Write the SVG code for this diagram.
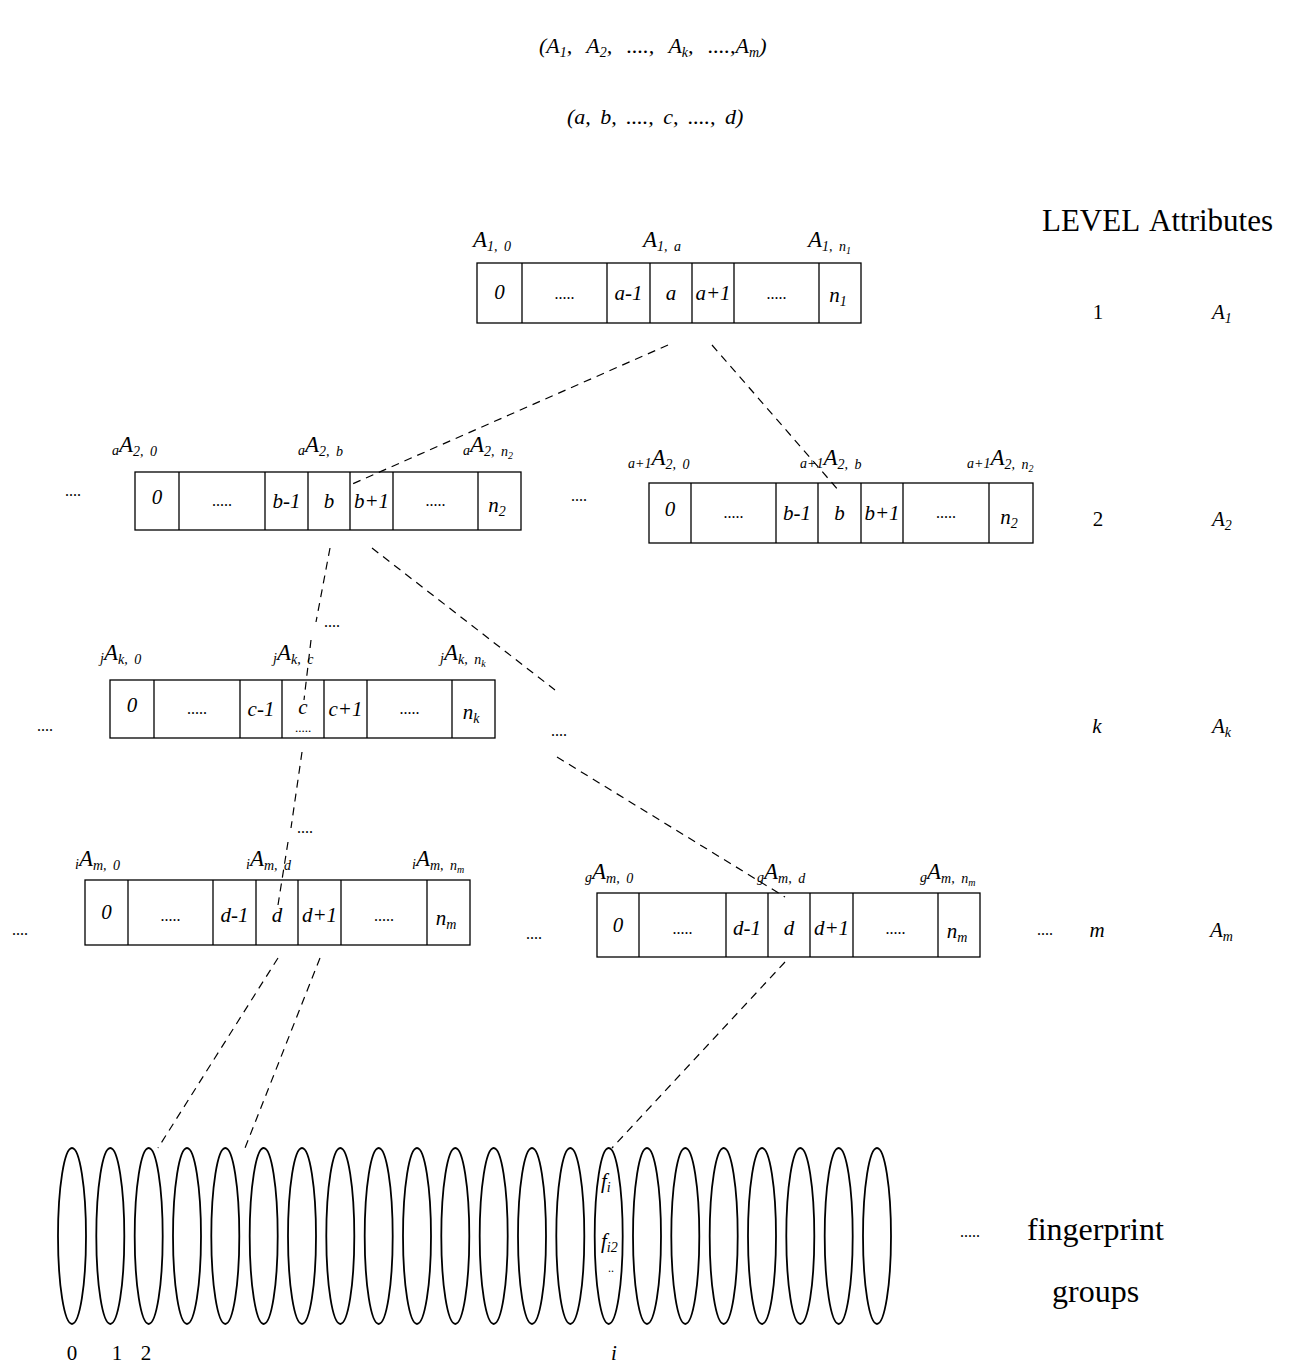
<svg xmlns="http://www.w3.org/2000/svg" width="1307" height="1366" viewBox="0 0 1307 1366">
<style>
.t{font-family:"Liberation Serif","Times New Roman",serif;font-style:italic;font-size:21px;fill:#000}
.r{font-family:"Liberation Serif","Times New Roman",serif;font-size:21px;fill:#000}
.l{font-size:23px;word-spacing:3px}
.s{font-size:14px}
.ss{font-size:10px}
.dots{font-family:"Liberation Serif",serif;font-size:16px;fill:#000;text-anchor:middle}
.c{text-anchor:middle}
.cell{fill:#fff;stroke:#000;stroke-width:1.3}
.dash{stroke:#000;stroke-width:1.2;stroke-dasharray:8 6;fill:none}
.ell{fill:none;stroke:#000;stroke-width:1.8}
</style>
<rect width="1307" height="1366" fill="#fff"/>

<g id="formulas">
<text class="t" x="539" y="53" style="font-size:22px;word-spacing:9px">(A<tspan class="s" dy="4">1</tspan><tspan dy="-4">, A</tspan><tspan class="s" dy="4">2</tspan><tspan dy="-4">, ...., A</tspan><tspan class="s" dy="4">k</tspan><tspan dy="-4">, ....,A</tspan><tspan class="s" dy="4">m</tspan><tspan dy="-4">)</tspan></text>
<text class="t" x="567" y="124" style="font-size:22px;word-spacing:4px">(a, b, ...., c, ...., d)</text>
</g>

<g id="legend">
<text class="r" x="1042" y="231" style="font-size:31px;word-spacing:4px">LEVEL Attributes</text>
<text class="r c" x="1098" y="319">1</text>
<text class="t" x="1212" y="319">A<tspan class="s" dy="4">1</tspan></text>
<text class="r c" x="1098" y="526">2</text>
<text class="t" x="1212" y="526">A<tspan class="s" dy="4">2</tspan></text>
<text class="t c" x="1097" y="733">k</text>
<text class="t" x="1212" y="733">A<tspan class="s" dy="4">k</tspan></text>
<text class="t c" x="1097" y="937">m</text>
<text class="t" x="1210" y="937">A<tspan class="s" dy="4">m</tspan></text>
</g>

<g id="level1">
<rect class="cell" x="477" y="263" width="384" height="60"/>
<g stroke="#000" stroke-width="1.3">
<line x1="522" y1="263" x2="522" y2="323"/><line x1="607" y1="263" x2="607" y2="323"/><line x1="650" y1="263" x2="650" y2="323"/><line x1="692" y1="263" x2="692" y2="323"/><line x1="734" y1="263" x2="734" y2="323"/><line x1="819" y1="263" x2="819" y2="323"/>
</g>
<text class="t c" x="499.5" y="299">0</text>
<text class="dots" x="564.5" y="299">.....</text>
<text class="t c" x="628.5" y="300">a-1</text>
<text class="t c" x="671" y="300">a</text>
<text class="t c" x="713" y="300">a+1</text>
<text class="dots" x="776.5" y="299">.....</text>
<text class="t c" x="838" y="302">n<tspan class="s" dy="4">1</tspan></text>
<text class="t l" x="473" y="247">A<tspan class="s" dy="4">1, 0</tspan></text>
<text class="t l" x="643" y="247">A<tspan class="s" dy="4">1, a</tspan></text>
<text class="t l" x="808" y="247">A<tspan class="s" dy="4">1, n</tspan><tspan class="ss" dy="3">1</tspan></text>
</g>

<g id="level2-left">
<text class="dots" x="73" y="496">....</text>
<rect class="cell" x="135" y="472" width="386" height="58"/>
<g stroke="#000" stroke-width="1.3">
<line x1="179" y1="472" x2="179" y2="530"/><line x1="265" y1="472" x2="265" y2="530"/><line x1="308" y1="472" x2="308" y2="530"/><line x1="350" y1="472" x2="350" y2="530"/><line x1="393" y1="472" x2="393" y2="530"/><line x1="478" y1="472" x2="478" y2="530"/>
</g>
<text class="t c" x="157" y="504">0</text>
<text class="dots" x="222" y="506">.....</text>
<text class="t c" x="286.5" y="508">b-1</text>
<text class="t c" x="329" y="508">b</text>
<text class="t c" x="371.5" y="508">b+1</text>
<text class="dots" x="435.5" y="506">.....</text>
<text class="t c" x="497" y="512">n<tspan class="s" dy="4">2</tspan></text>
<text class="t l" x="112" y="452"><tspan class="s" dy="3">a</tspan><tspan dy="-3">A</tspan><tspan class="s" dy="4">2, 0</tspan></text>
<text class="t l" x="298" y="452"><tspan class="s" dy="3">a</tspan><tspan dy="-3">A</tspan><tspan class="s" dy="4">2, b</tspan></text>
<text class="t l" x="463" y="452"><tspan class="s" dy="3">a</tspan><tspan dy="-3">A</tspan><tspan class="s" dy="4">2, n</tspan><tspan class="ss" dy="3">2</tspan></text>
</g>

<g id="level2-right">
<text class="dots" x="579" y="501">....</text>
<rect class="cell" x="649" y="483" width="384" height="60"/>
<g stroke="#000" stroke-width="1.3">
<line x1="691" y1="483" x2="691" y2="543"/><line x1="776" y1="483" x2="776" y2="543"/><line x1="818" y1="483" x2="818" y2="543"/><line x1="861" y1="483" x2="861" y2="543"/><line x1="903" y1="483" x2="903" y2="543"/><line x1="989" y1="483" x2="989" y2="543"/>
</g>
<text class="t c" x="670" y="516">0</text>
<text class="dots" x="733.5" y="518">.....</text>
<text class="t c" x="797" y="520">b-1</text>
<text class="t c" x="839.5" y="520">b</text>
<text class="t c" x="882" y="520">b+1</text>
<text class="dots" x="946" y="518">.....</text>
<text class="t c" x="1009" y="524">n<tspan class="s" dy="4">2</tspan></text>
<text class="t l" x="628" y="465"><tspan class="s" dy="3">a+1</tspan><tspan dy="-3">A</tspan><tspan class="s" dy="4">2, 0</tspan></text>
<text class="t l" x="800" y="465"><tspan class="s" dy="3">a+1</tspan><tspan dy="-3">A</tspan><tspan class="s" dy="4">2, b</tspan></text>
<text class="t l" x="967" y="465"><tspan class="s" dy="3">a+1</tspan><tspan dy="-3">A</tspan><tspan class="s" dy="4">2, n</tspan><tspan class="ss" dy="3">2</tspan></text>
</g>

<g id="level-k">
<text class="dots" x="45" y="731">....</text>
<rect class="cell" x="110" y="680" width="385" height="58"/>
<g stroke="#000" stroke-width="1.3">
<line x1="154" y1="680" x2="154" y2="738"/><line x1="240" y1="680" x2="240" y2="738"/><line x1="282" y1="680" x2="282" y2="738"/><line x1="324" y1="680" x2="324" y2="738"/><line x1="367" y1="680" x2="367" y2="738"/><line x1="452" y1="680" x2="452" y2="738"/>
</g>
<text class="t c" x="132" y="712">0</text>
<text class="dots" x="197" y="714">.....</text>
<text class="t c" x="261" y="716">c-1</text>
<text class="t c" x="303" y="714">c</text>
<text class="dots" x="303" y="732" style="font-size:13px">.....</text>
<text class="t c" x="345.5" y="716">c+1</text>
<text class="dots" x="409.5" y="714">.....</text>
<text class="t c" x="471" y="719">n<tspan class="s" dy="4">k</tspan></text>
<text class="dots" x="559" y="736">....</text>
<text class="t l" x="100" y="660"><tspan class="s" dy="3">j</tspan><tspan dy="-3">A</tspan><tspan class="s" dy="4">k, 0</tspan></text>
<text class="t l" x="273" y="660"><tspan class="s" dy="3">j</tspan><tspan dy="-3">A</tspan><tspan class="s" dy="4">k, c</tspan></text>
<text class="t l" x="440" y="660"><tspan class="s" dy="3">j</tspan><tspan dy="-3">A</tspan><tspan class="s" dy="4">k, n</tspan><tspan class="ss" dy="3">k</tspan></text>
</g>

<g id="level-m-left">
<text class="dots" x="20" y="935">....</text>
<rect class="cell" x="85" y="880" width="385" height="65"/>
<g stroke="#000" stroke-width="1.3">
<line x1="128" y1="880" x2="128" y2="945"/><line x1="213" y1="880" x2="213" y2="945"/><line x1="256" y1="880" x2="256" y2="945"/><line x1="298" y1="880" x2="298" y2="945"/><line x1="341" y1="880" x2="341" y2="945"/><line x1="427" y1="880" x2="427" y2="945"/>
</g>
<text class="t c" x="106.5" y="919">0</text>
<text class="dots" x="170.5" y="921">.....</text>
<text class="t c" x="234.5" y="922">d-1</text>
<text class="t c" x="277" y="922">d</text>
<text class="t c" x="319.5" y="922">d+1</text>
<text class="dots" x="384" y="921">.....</text>
<text class="t c" x="446" y="925">n<tspan class="s" dy="4">m</tspan></text>
<text class="dots" x="534" y="939">....</text>
<text class="t l" x="75" y="866"><tspan class="s" dy="3">i</tspan><tspan dy="-3">A</tspan><tspan class="s" dy="4">m, 0</tspan></text>
<text class="t l" x="246" y="866"><tspan class="s" dy="3">i</tspan><tspan dy="-3">A</tspan><tspan class="s" dy="4">m, d</tspan></text>
<text class="t l" x="412" y="866"><tspan class="s" dy="3">i</tspan><tspan dy="-3">A</tspan><tspan class="s" dy="4">m, n</tspan><tspan class="ss" dy="3">m</tspan></text>
</g>

<g id="level-m-right">
<rect class="cell" x="597" y="893" width="383" height="64"/>
<g stroke="#000" stroke-width="1.3">
<line x1="639" y1="893" x2="639" y2="957"/><line x1="726" y1="893" x2="726" y2="957"/><line x1="768" y1="893" x2="768" y2="957"/><line x1="810" y1="893" x2="810" y2="957"/><line x1="853" y1="893" x2="853" y2="957"/><line x1="938" y1="893" x2="938" y2="957"/>
</g>
<text class="t c" x="618" y="932">0</text>
<text class="dots" x="682.5" y="934">.....</text>
<text class="t c" x="747" y="935">d-1</text>
<text class="t c" x="789" y="935">d</text>
<text class="t c" x="831.5" y="935">d+1</text>
<text class="dots" x="895.5" y="934">.....</text>
<text class="t c" x="957" y="938">n<tspan class="s" dy="4">m</tspan></text>
<text class="dots" x="1045" y="935">....</text>
<text class="t l" x="585" y="879"><tspan class="s" dy="3">g</tspan><tspan dy="-3">A</tspan><tspan class="s" dy="4">m, 0</tspan></text>
<text class="t l" x="757" y="879"><tspan class="s" dy="3">g</tspan><tspan dy="-3">A</tspan><tspan class="s" dy="4">m, d</tspan></text>
<text class="t l" x="920" y="879"><tspan class="s" dy="3">g</tspan><tspan dy="-3">A</tspan><tspan class="s" dy="4">m, n</tspan><tspan class="ss" dy="3">m</tspan></text>
</g>

<g id="connectors">
<line class="dash" x1="668" y1="345" x2="350" y2="485"/>
<line class="dash" x1="712" y1="345" x2="840" y2="492"/>
<line class="dash" x1="330" y1="548" x2="316" y2="622"/>
<text class="dots" x="332" y="627">....</text>
<line class="dash" x1="311" y1="640" x2="304" y2="700"/>
<line class="dash" x1="302" y1="752" x2="291" y2="828"/>
<text class="dots" x="305" y="833">....</text>
<line class="dash" x1="288" y1="842" x2="278" y2="905"/>
<line class="dash" x1="372" y1="548" x2="555" y2="690"/>
<line class="dash" x1="557" y1="757" x2="785" y2="897"/>
<line class="dash" x1="278" y1="958" x2="158" y2="1148"/>
<line class="dash" x1="320" y1="958" x2="245" y2="1148"/>
<line class="dash" x1="785" y1="962" x2="612" y2="1148"/>
</g>

<g id="fingerprint-groups">
<ellipse class="ell" cx="72" cy="1236" rx="14" ry="88"/>
<ellipse class="ell" cx="110.3" cy="1236" rx="14" ry="88"/>
<ellipse class="ell" cx="148.7" cy="1236" rx="14" ry="88"/>
<ellipse class="ell" cx="187" cy="1236" rx="14" ry="88"/>
<ellipse class="ell" cx="225.3" cy="1236" rx="14" ry="88"/>
<ellipse class="ell" cx="263.7" cy="1236" rx="14" ry="88"/>
<ellipse class="ell" cx="302" cy="1236" rx="14" ry="88"/>
<ellipse class="ell" cx="340.3" cy="1236" rx="14" ry="88"/>
<ellipse class="ell" cx="378.7" cy="1236" rx="14" ry="88"/>
<ellipse class="ell" cx="417" cy="1236" rx="14" ry="88"/>
<ellipse class="ell" cx="455.3" cy="1236" rx="14" ry="88"/>
<ellipse class="ell" cx="493.7" cy="1236" rx="14" ry="88"/>
<ellipse class="ell" cx="532" cy="1236" rx="14" ry="88"/>
<ellipse class="ell" cx="570.3" cy="1236" rx="14" ry="88"/>
<ellipse class="ell" cx="608.7" cy="1236" rx="14" ry="88"/>
<ellipse class="ell" cx="647" cy="1236" rx="14" ry="88"/>
<ellipse class="ell" cx="685.3" cy="1236" rx="14" ry="88"/>
<ellipse class="ell" cx="723.7" cy="1236" rx="14" ry="88"/>
<ellipse class="ell" cx="762" cy="1236" rx="14" ry="88"/>
<ellipse class="ell" cx="800.3" cy="1236" rx="14" ry="88"/>
<ellipse class="ell" cx="838.7" cy="1236" rx="14" ry="88"/>
<ellipse class="ell" cx="877" cy="1236" rx="14" ry="88"/>
<text class="t" x="601" y="1188">f<tspan class="s" dy="4">i</tspan></text>
<text class="t" x="601" y="1248">f<tspan class="s" dy="4">i2</tspan></text>
<text class="dots" x="611" y="1272" style="font-size:12px">..</text>
<text class="r c" x="72" y="1360">0</text>
<text class="r c" x="117" y="1360">1</text>
<text class="r c" x="146" y="1360">2</text>
<text class="t c" x="614" y="1360">i</text>
<text class="dots" x="970" y="1237">.....</text>
<text class="r" x="1027" y="1240" style="font-size:32px">fingerprint</text>
<text class="r" x="1052" y="1302" style="font-size:32px">groups</text>
</g>
</svg>
